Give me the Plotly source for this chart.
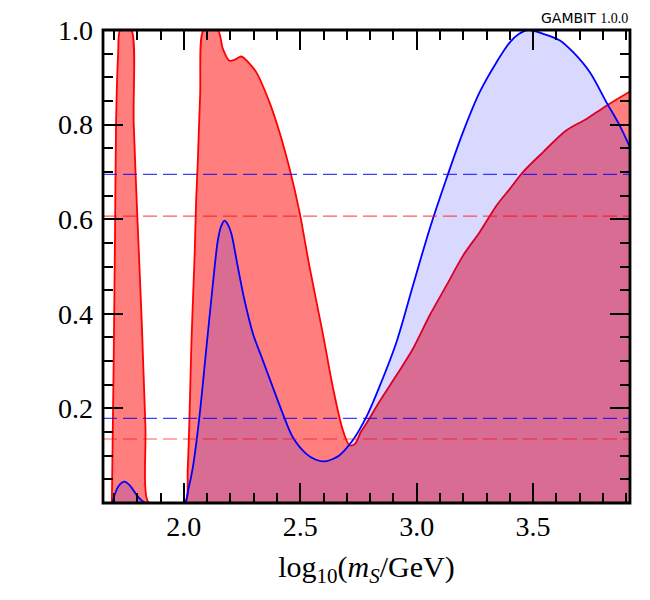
import plotly.graph_objects as go

# ---- data ----
red_x = [1.691, 1.699, 1.705, 1.709, 1.718, 1.727, 1.750, 1.774, 1.785, 1.802, 1.820, 1.835, 1.850,
         1.900, 1.950, 2.005, 2.017, 2.034, 2.046, 2.053, 2.060, 2.070, 2.085, 2.115, 2.146, 2.168,
         2.196, 2.222, 2.247, 2.280, 2.311, 2.368, 2.411, 2.454, 2.497, 2.540, 2.597, 2.640, 2.683,
         2.712, 2.735, 2.760, 2.784, 2.841, 2.913, 2.984, 3.056, 3.128, 3.199, 3.271, 3.343, 3.400,
         3.457, 3.543, 3.643, 3.729, 3.815, 3.916]
red_y = [0.0, 0.305, 0.587, 0.80, 0.95, 1.0, 1.0, 1.0, 0.80, 0.587, 0.375, 0.164, 0.0,
         0.0, 0.0, 0.0, 0.076, 0.358, 0.517, 0.64, 0.72, 0.86, 1.0, 1.0, 1.0, 0.96,
         0.935, 0.938, 0.944, 0.93, 0.911, 0.847, 0.784, 0.707, 0.615, 0.499, 0.358, 0.245, 0.154,
         0.122, 0.125, 0.150, 0.168, 0.215, 0.270, 0.326, 0.397, 0.460, 0.523, 0.573, 0.629, 0.664,
         0.700, 0.742, 0.788, 0.812, 0.840, 0.870]

blue_x = [1.692, 1.705, 1.720, 1.745, 1.770, 1.800, 1.825, 1.838, 1.900, 1.950, 2.003, 2.020, 2.039,
          2.067, 2.096, 2.125, 2.146, 2.160, 2.175, 2.190, 2.204, 2.232, 2.261, 2.297, 2.339, 2.382,
          2.425, 2.468, 2.526, 2.565, 2.605, 2.640, 2.669, 2.726, 2.784, 2.841, 2.913, 2.984, 3.056,
          3.128, 3.199, 3.271, 3.343, 3.400, 3.440, 3.478, 3.543, 3.615, 3.672, 3.743, 3.815, 3.872,
          3.916]
blue_y = [0.0, 0.02, 0.036, 0.045, 0.036, 0.015, 0.003, 0.0, 0.0, 0.0, 0.0, 0.03, 0.076,
          0.182, 0.323, 0.464, 0.555, 0.585, 0.597, 0.588, 0.570, 0.499, 0.428, 0.358, 0.302, 0.245,
          0.189, 0.139, 0.104, 0.092, 0.088, 0.093, 0.101, 0.133, 0.182, 0.247, 0.340, 0.460, 0.580,
          0.686, 0.784, 0.869, 0.932, 0.974, 0.992, 1.0, 0.992, 0.978, 0.953, 0.911, 0.847, 0.798,
          0.752]

red_levels = [0.6065, 0.1353]
blue_levels = [0.6946, 0.179]

x_range = [1.653, 3.916]
x_major = [2.0, 2.5, 3.0, 3.5]
x_labels = ["2.0", "2.5", "3.0", "3.5"]
y_major = [0.2, 0.4, 0.6, 0.8, 1.0]
y_labels = ["0.2", "0.4", "0.6", "0.8", "1.0"]

SERIF = "Liberation Serif"

fig = go.Figure()
fig.add_trace(go.Scatter(
    x=red_x, y=red_y, mode="lines", fill="tozeroy",
    fillcolor="rgba(255,0,0,0.5)",
    line=dict(color="#ff0000", width=1.8, shape="spline", smoothing=0.9),
    showlegend=False, hoverinfo="skip"))
fig.add_trace(go.Scatter(
    x=blue_x, y=blue_y, mode="lines", fill="tozeroy",
    fillcolor="rgba(0,0,255,0.15)",
    line=dict(color="#0000ff", width=1.8, shape="spline", smoothing=0.9),
    showlegend=False, hoverinfo="skip"))

for lv in blue_levels:
    fig.add_shape(type="line", xref="paper", x0=0, x1=1, yref="y", y0=lv, y1=lv,
                  line=dict(color="rgba(0,0,255,0.75)", width=1.2, dash="14px,6px"),
                  layer="above")
for lv in red_levels:
    fig.add_shape(type="line", xref="paper", x0=0, x1=1, yref="y", y0=lv, y1=lv,
                  line=dict(color="rgba(255,0,0,0.65)", width=1.2, dash="14px,6px"),
                  layer="above")

# frame centred on the plot edges (like matplotlib spines)
fig.add_shape(type="rect", xref="paper", yref="paper", x0=0, x1=1, y0=0, y1=1,
              line=dict(color="black", width=2.8), fillcolor="rgba(0,0,0,0)",
              layer="above")

axis_common = dict(
    showline=False, mirror="ticks",
    ticks="inside", ticklen=20, tickwidth=2, tickcolor="black",
    showgrid=False, zeroline=False,
    tickfont=dict(family=SERIF, size=28, color="black"),
)

fig.update_xaxes(
    range=x_range, tickmode="array", tickvals=x_major, ticktext=x_labels,
    minor=dict(ticks="inside", ticklen=10, tickwidth=2, tickcolor="black",
               tick0=0, dtick=0.1, showgrid=False),
    ticklabelstandoff=4,
    title=dict(text="log<sub>10</sub>(<i>m<sub>S</sub></i>/GeV)",
               font=dict(family=SERIF, size=30, color="black"), standoff=14),
    **axis_common)
fig.update_yaxes(
    range=[0, 1], tickmode="array", tickvals=y_major, ticktext=y_labels,
    minor=dict(ticks="inside", ticklen=10, tickwidth=2, tickcolor="black",
               tick0=0, dtick=0.05, showgrid=False),
    ticklabelstandoff=9,
    **axis_common)

fig.add_annotation(
    xref="paper", yref="paper", x=1.0, y=1.0, xanchor="right", yanchor="bottom",
    yshift=2, showarrow=False,
    text="<span style='font-family:DejaVu Sans'>GAMBIT</span> "
         "<span style='font-family:Liberation Serif'>1.0.0</span>",
    font=dict(size=14, color="black", family="DejaVu Sans"))

fig.update_layout(
    width=650, height=600,
    margin=dict(l=103, r=20, t=30, b=97),
    paper_bgcolor="white", plot_bgcolor="white",
)

fig.write_html("out.html")
